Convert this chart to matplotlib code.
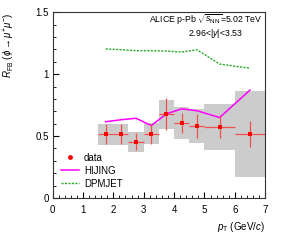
import matplotlib
matplotlib.use("Agg")
import matplotlib.pyplot as plt
import numpy as np

plt.rcParams['font.family'] = ['Liberation Sans', 'DejaVu Sans']
plt.rcParams['mathtext.fontset'] = 'custom'
plt.rcParams['mathtext.rm'] = 'Liberation Sans'
plt.rcParams['mathtext.it'] = 'Liberation Sans:italic'
plt.rcParams['mathtext.bf'] = 'Liberation Sans:bold'

# data
pt = [1.75, 2.25, 2.75, 3.25, 3.75, 4.25, 4.75, 5.5, 6.5]
pt_err = [0.25, 0.25, 0.25, 0.25, 0.25, 0.25, 0.25, 0.5, 0.5]
rfb = [0.514, 0.514, 0.455, 0.517, 0.676, 0.603, 0.582, 0.571, 0.517]
stat = [0.08, 0.08, 0.067, 0.08, 0.13, 0.08, 0.10, 0.088, 0.105]
syst = [0.087, 0.087, 0.081, 0.085, 0.118, 0.129, 0.135, 0.186, 0.347]

hijing = [0.616, 0.632, 0.644, 0.585, 0.680, 0.720, 0.705, 0.650, 0.872]
dpmjet = [1.204, 1.198, 1.190, 1.190, 1.187, 1.179, 1.198, 1.082, 1.048]

fig = plt.figure(figsize=(2.95, 2.42), dpi=100)
ax = fig.add_axes([0.178, 0.182, 0.721, 0.767])

pt_a = np.array(pt); ptw = np.array(pt_err); y = np.array(rfb); sy = np.array(syst)
ax.bar(pt_a, 2 * sy, width=2 * ptw, bottom=y - sy, color='#cccccc', linewidth=0, zorder=1)
ax.plot(pt, hijing, color='#ff00ff', lw=1.1, zorder=3, label='HIJING')
ax.plot(pt, dpmjet, color='#22aa22', lw=1.0, ls=(0, (1.5, 1)), zorder=3, label='DPMJET')
ax.errorbar(pt, rfb, xerr=pt_err, yerr=stat, fmt='none', ecolor='#f05050',
            elinewidth=0.9, capsize=0, zorder=4)
ax.plot(pt, rfb, 's', color='#ff0000', ms=3, mew=0, zorder=5)
hdata, = ax.plot([], [], 'o', color='#ff0000', ms=3.5, mew=0, label='data')

handles = [hdata, ax.lines[0], ax.lines[1]]
ax.legend(handles=handles, labels=['data', 'HIJING', 'DPMJET'], loc='upper left',
          bbox_to_anchor=(0.040, 0.243), frameon=False, fontsize=7,
          handlelength=1.9, handletextpad=0.45, borderpad=0, borderaxespad=0,
          labelspacing=0.3)

ax.set_xlim(0, 7)
ax.set_ylim(0, 1.5)
ax.set_xticks(range(0, 8))
ax.set_yticks([0, 0.5, 1, 1.5])
ax.set_yticklabels(['0', '0.5', '1', '1.5'])
ax.set_xticks(np.arange(0, 7.01, 0.2), minor=True)
ax.set_yticks(np.arange(0, 1.501, 0.1), minor=True)
ax.tick_params(which='both', direction='in', top=False, right=False, labelsize=7)
ax.tick_params(axis='x', which='major', length=4.5, pad=5)
ax.tick_params(axis='y', which='major', length=4.5, pad=2.5)
ax.tick_params(which='minor', length=2.2)
for s in ax.spines.values():
    s.set_linewidth(0.8)
    s.set_color('#333333')

ax.set_xlabel(r'$p_{\rm T}$ (GeV/$c$)', fontsize=7, loc='right')
ax.xaxis.set_label_coords(1.0, -0.12)
ax.set_ylabel(r'$R_{\rm FB}$ ($\phi\rightarrow\mu^{+}\mu^{-}$)', fontsize=7, loc='top')
ax.yaxis.set_label_coords(-0.165, 1.0)

ax.text(0.989, 0.958, r'ALICE p-Pb $\sqrt{s_{\rm NN}}$=5.02 TeV', transform=ax.transAxes,
        ha='right', va='center', fontsize=6.3)
ax.text(0.768, 0.886, r'2.96<|$y$|<3.53', transform=ax.transAxes,
        ha='center', va='center', fontsize=6.3)

fig.savefig('out.png', dpi=100)
